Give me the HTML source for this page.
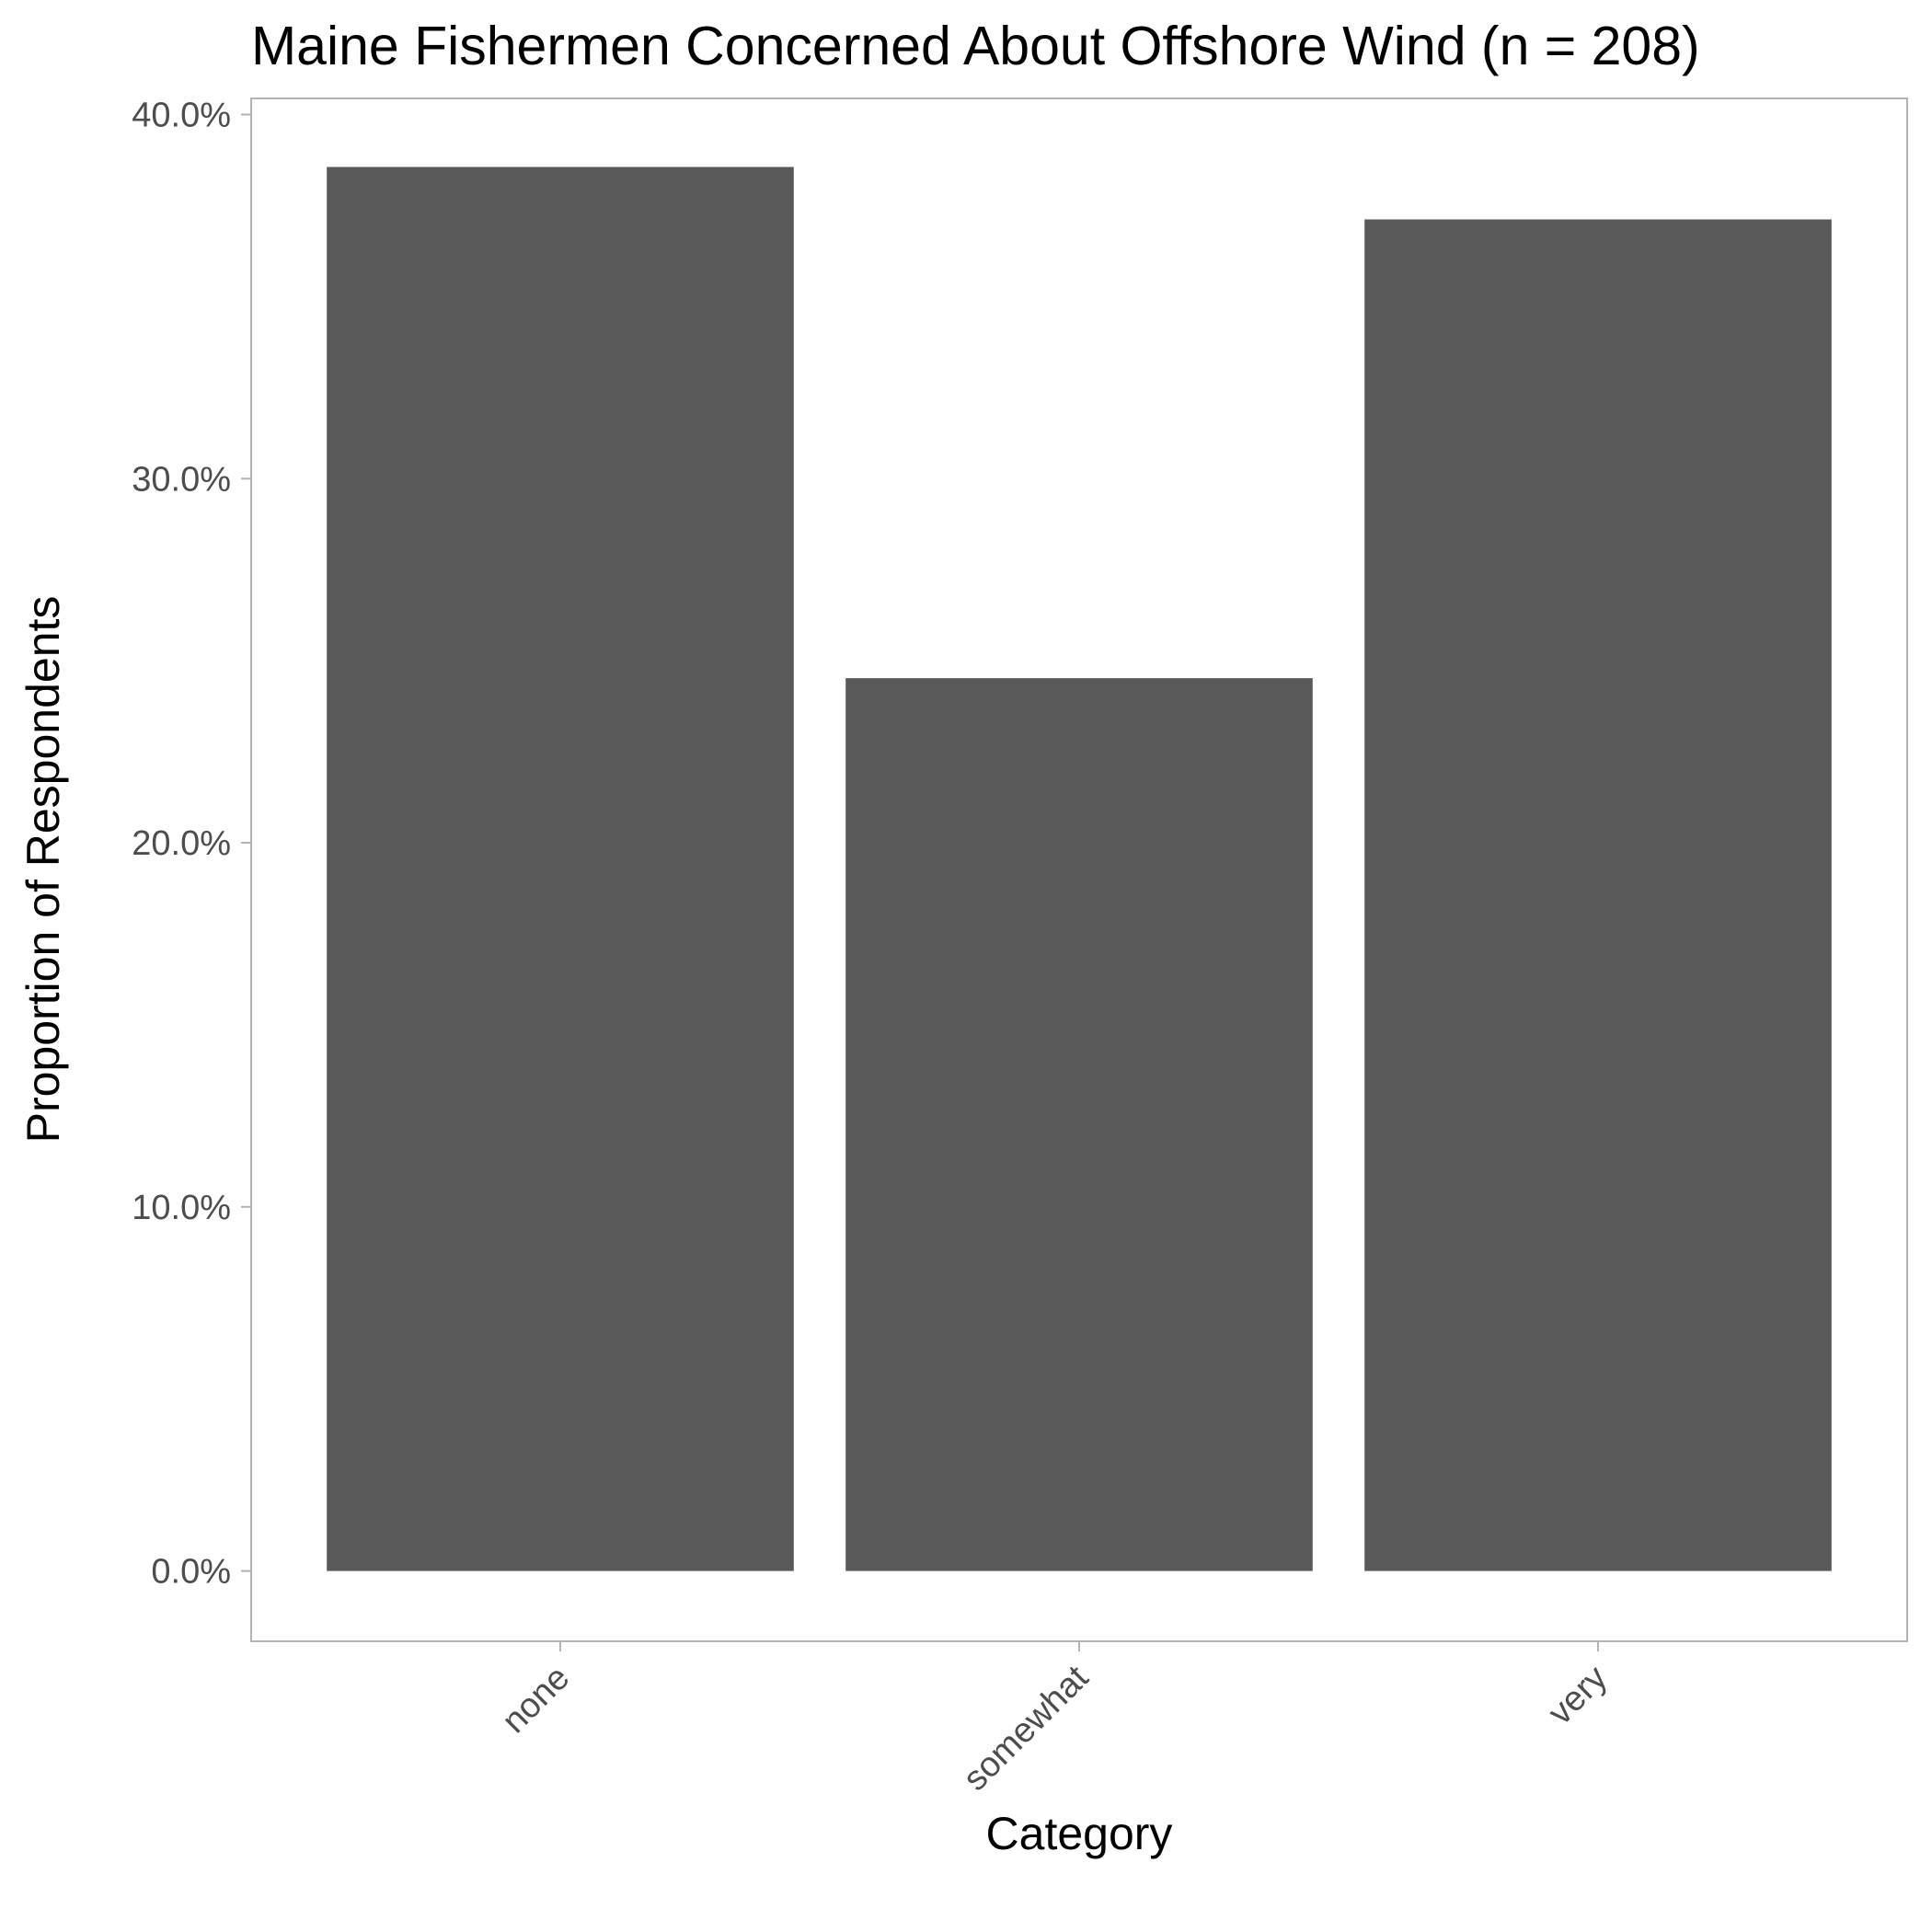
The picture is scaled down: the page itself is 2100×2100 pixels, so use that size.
<!DOCTYPE html>
<html><head><meta charset="utf-8"><style>
html,body{margin:0;padding:0;background:#fff;width:2100px;height:2100px;overflow:hidden}
svg text{font-family:"Liberation Sans",Arial,sans-serif}
</style></head><body>
<svg id="chart" width="2100" height="2100" xmlns="http://www.w3.org/2000/svg">
<rect x="0" y="0" width="2100" height="2100" fill="#fff"/>
<text x="273" y="70" font-size="59" fill="#000">Maine Fishermen Concerned About Offshore Wind (n = 208)</text>
<rect x="273" y="107" width="1800" height="1677" fill="none" stroke="#b3b3b3" stroke-width="2"/>
<g id="bars"></g><g id="yaxis"></g><g id="xaxis"></g>
<text x="1173" y="2010" font-size="50" text-anchor="middle" fill="#000">Category</text>
<text transform="translate(64,945) rotate(-90)" font-size="50" text-anchor="middle" fill="#000">Proportion of Respondents</text>
</svg>
<script>
const categories = ["none", "somewhat", "very"];
const values = [0.3856, 0.2452, 0.3712];
const yTicks = [0, 0.1, 0.2, 0.3, 0.4];
const yTickLabels = ["0.0%", "10.0%", "20.0%", "30.0%", "40.0%"];

const NS = "http://www.w3.org/2000/svg";
const panelL = 273, panelR = 2073, panelB = 1784;
const y0px = 1707.6, y40px = 124.5;
function yScale(v){ return y0px - v / 0.4 * (y0px - y40px); }
const x0 = 609, band = 564;
function xScale(i){ return x0 + i * band; }
const barW = band * 0.9;

const bars = document.getElementById('bars');
values.forEach((v, i) => {
  const r = document.createElementNS(NS, 'rect');
  
  
  r.setAttribute('x', xScale(i) - barW / 2);
  r.setAttribute('y', yScale(v));
  r.setAttribute('width', barW);
  r.setAttribute('height', yScale(0) - yScale(v));
  r.setAttribute('fill', '#595959');
  bars.appendChild(r);
});

const ya = document.getElementById('yaxis');
yTicks.forEach((t, i) => {
  const y = yScale(t);
  const l = document.createElementNS(NS, 'line');
  
  
  l.setAttribute('x1', panelL - 11); l.setAttribute('x2', panelL);
  l.setAttribute('y1', y); l.setAttribute('y2', y);
  l.setAttribute('stroke', '#b3b3b3'); l.setAttribute('stroke-width', '2');
  ya.appendChild(l);
  const tx = document.createElementNS(NS, 'text');
  
  
  tx.setAttribute('x', panelL - 22); tx.setAttribute('y', y + 13);
  tx.setAttribute('text-anchor', 'end'); tx.setAttribute('font-size', '38');
  tx.setAttribute('fill', '#4d4d4d');
  tx.textContent = yTickLabels[i];
  ya.appendChild(tx);
});

const xa = document.getElementById('xaxis');
categories.forEach((c, i) => {
  const x = xScale(i);
  const l = document.createElementNS(NS, 'line');
  
  
  l.setAttribute('x1', x); l.setAttribute('x2', x);
  l.setAttribute('y1', panelB); l.setAttribute('y2', panelB + 11);
  l.setAttribute('stroke', '#b3b3b3'); l.setAttribute('stroke-width', '2');
  xa.appendChild(l);
  const tx = document.createElementNS(NS, 'text');
  
  
  tx.setAttribute('transform', 'translate(' + (x + 12) + ',' + (panelB + 42) + ') rotate(-45)');
  tx.setAttribute('text-anchor', 'end'); tx.setAttribute('font-size', '38');
  tx.setAttribute('fill', '#4d4d4d');
  tx.textContent = c;
  xa.appendChild(tx);
});
</script>
</body></html>
